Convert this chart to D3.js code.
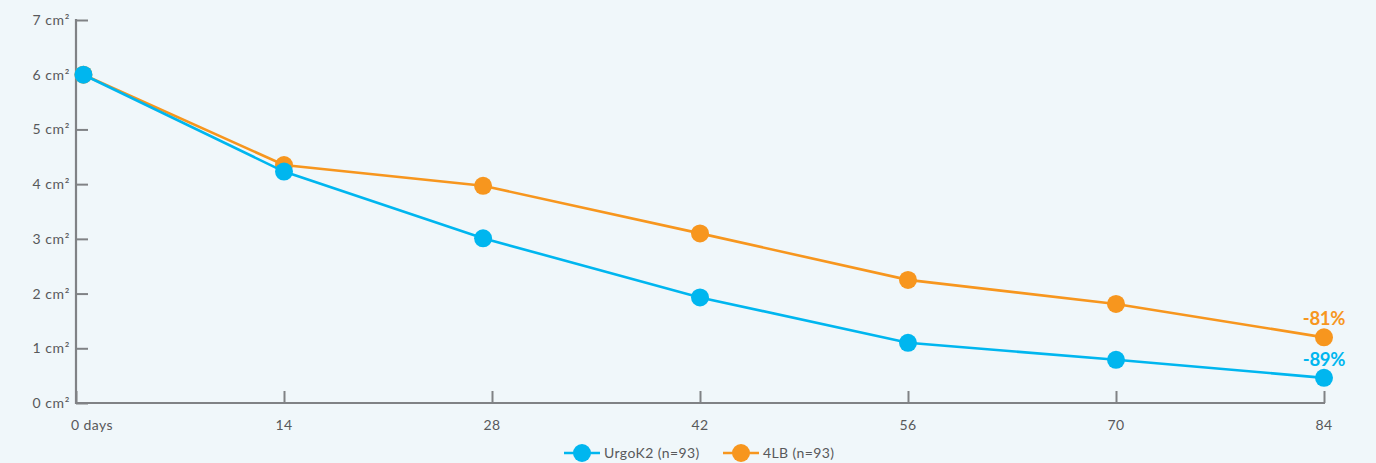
<!DOCTYPE html>
<html><head><meta charset="utf-8">
<script src="https://cdn.jsdelivr.net/npm/d3@7/dist/d3.min.js"></script>
<style>
html,body{margin:0;padding:0;background:#f0f7fa;}
svg{display:block;font-family:Lato,"Open Sans",sans-serif;}
</style></head><body>
<svg id="c" width="1376" height="463"></svg>
<script>
const days = [0.5, 14, 27.4, 42, 56, 70, 84];
const xTicks = [0, 14, 28, 42, 56, 70, 84];
const xTickLabels = ["0 days", "14", "28", "42", "56", "70", "84"];
const yTicks = [0, 1, 2, 3, 4, 5, 6, 7];
const urgoK2 = [6.0, 4.23, 3.01, 1.93, 1.10, 0.79, 0.46];
const fourLB = [6.0, 4.35, 3.97, 3.10, 2.25, 1.81, 1.20];
const seriesNames = ["UrgoK2 (n=93)", "4LB (n=93)"];
const endLabels = ["-89%", "-81%"];

const colors = ["#00b6ef", "#f7961e"];
const svg = d3.select("#c");
const x = d3.scaleLinear().domain([0, 84]).range([76, 1324]);
const y = d3.scaleLinear().domain([0, 7]).range([403, 20]);
const axisColor = "#808285", textColor = "#58595b";

// y axis
const ya = svg.append("g").attr("transform", "translate(76,0)")
  .call(d3.axisRight(y).tickValues(yTicks).tickSize(12).tickFormat(""));
ya.select(".domain").remove();
ya.selectAll("line").attr("stroke", axisColor).attr("stroke-width", 2);
svg.append("line").attr("x1", 76).attr("x2", 76).attr("y1", 19).attr("y2", 404)
  .attr("stroke", axisColor).attr("stroke-width", 2.2);
svg.append("g").selectAll("text").data(yTicks).join("text")
  .attr("x", 70).attr("y", d => y(d) + 5).attr("text-anchor", "end")
  .attr("fill", textColor).attr("font-size", 14).attr("letter-spacing", 0.6)
  .text(d => d + " cm²");

// x axis
const xa = svg.append("g").attr("transform", "translate(0,403)")
  .call(d3.axisTop(x).tickValues(xTicks).tickSize(12).tickFormat(""));
xa.select(".domain").remove();
xa.selectAll("line").attr("stroke", axisColor).attr("stroke-width", 2);
svg.append("line").attr("x1", 75).attr("x2", 1325).attr("y1", 403).attr("y2", 403)
  .attr("stroke", axisColor).attr("stroke-width", 2.2);
svg.append("g").selectAll("text").data(xTicks).join("text")
  .attr("x", (d, i) => i === 0 ? x(d) - 5 : x(d))
  .attr("y", 430).attr("text-anchor", (d, i) => i === 0 ? "start" : "middle")
  .attr("fill", textColor).attr("font-size", 14).attr("letter-spacing", 0.4)
  .text((d, i) => xTickLabels[i]);

// series (draw orange first, blue on top)
const series = [urgoK2, fourLB];
const line = d3.line().x((d, i) => x(days[i])).y(d => y(d));
[1, 0].forEach(s => {
  const g = svg.append("g");
  g.append("path").datum(series[s]).attr("d", line).attr("fill", "none")
    .attr("stroke", colors[s]).attr("stroke-width", 2.6);
  g.selectAll("circle").data(series[s]).join("circle")
    .attr("cx", (d, i) => x(days[i])).attr("cy", d => y(d)).attr("r", 9)
    .attr("fill", colors[s]);
});

// end labels
series.forEach((vals, s) => {
  const last = vals.length - 1;
  svg.append("text").attr("x", x(days[last])).attr("y", y(vals[last]) - 12)
    .attr("text-anchor", "middle").attr("fill", colors[s])
    .attr("font-size", 18.5).attr("font-weight", "bold").attr("letter-spacing", -0.3)
    .text(endLabels[s]);
});

// legend
const legX = [564, 723];
seriesNames.forEach((n, s) => {
  const g = svg.append("g").attr("transform", `translate(${legX[s]},453)`);
  g.append("line").attr("x1", 0).attr("x2", 36).attr("stroke", colors[s]).attr("stroke-width", 2.6);
  g.append("circle").attr("cx", 18).attr("r", 9).attr("fill", colors[s]);
  g.append("text").attr("x", 40).attr("y", 5).attr("fill", textColor)
    .attr("font-size", 14).attr("letter-spacing", 0.4).text(n);
});
</script>
</body></html>
